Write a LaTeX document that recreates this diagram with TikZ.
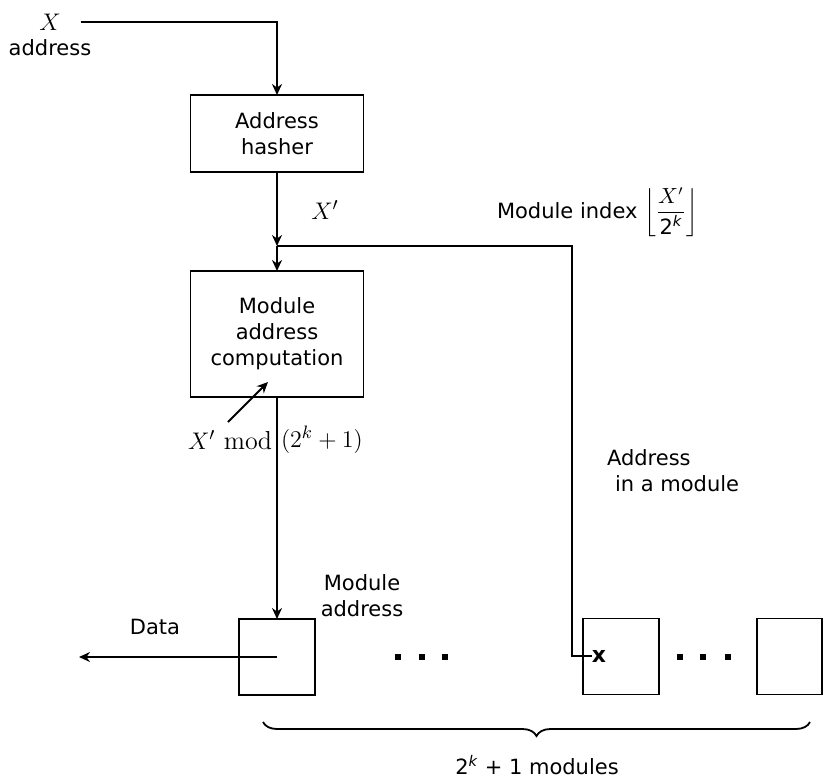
\documentclass[tikz,border=0pt]{standalone}
\usepackage{fontspec}
\setsansfont{DejaVu Sans}
\usetikzlibrary{arrows.meta,decorations.pathreplacing}

\begin{document}
\begin{tikzpicture}[x=0.5pt,y=-0.5pt,
  every node/.style={inner sep=0pt, outer sep=0pt},
  lbl/.style={font=\sffamily\fontsize{10.5}{13}\selectfont, align=center},
  mth/.style={font=\fontsize{13}{15}\selectfont},
  blk/.style={draw, line width=0.9pt, lbl},
  modbox/.style={draw, line width=0.9pt, minimum width=38pt, minimum height=38pt},
  wire/.style={line width=0.9pt},
  arr/.style={wire, -{Stealth[length=5.5pt,width=5pt]}},
  sq/.style={fill, minimum size=3.2pt, inner sep=0pt}]

\useasboundingbox (0,0) rectangle (824,782);

% input address
\node[mth] (xlab) at (50,22) {$X$};
\node[lbl] (xaddr) at (50,48) {address};

% processing blocks
\node[blk, minimum width=86.5pt, minimum height=38.5pt] (hasher) at (277,133.5) {Address\\hasher};
\node[blk, minimum width=86.5pt, minimum height=63pt] (comp) at (277,334) {Module\\address\\computation};

% memory modules
\node[modbox] (m1) at (277,657) {};
\node[modbox] (m2) at (621,656.5) {};
\node[draw, line width=0.9pt, minimum width=32.5pt, minimum height=38pt] (m3) at (789.5,656.5) {};

% ellipsis dots between modules
\node[sq] (d1) at (398,657) {};
\node[sq] (d2) at (422,657) {};
\node[sq] (d3) at (445,657) {};
\node[sq] (d4) at (680,657) {};
\node[sq] (d5) at (703,657) {};
\node[sq] (d6) at (728,657) {};

% junction and routing points
\coordinate (j) at (277,246);
\coordinate (turn) at (572,246);
\coordinate (dataend) at (79,657);
\coordinate (ptail) at (228,422);
\coordinate (phead) at (268,382);

% word-address entry mark
\node[font=\sffamily\bfseries\fontsize{11}{12}\selectfont] (mark) at (599,656) {x};

% connectors
\draw[arr] ([xshift=10pt]xlab.east) -| (hasher.north);
\draw[arr] (hasher.south) -- (j);
\draw[arr] (j) -- (comp.north);
\draw[wire] (j) -- (turn) |- (mark.west);
\draw[arr] (comp.south) -- (m1.north);
\draw[arr] (m1.center) -- (dataend);
\draw[arr] (ptail) -- (phead);

% labels
\node[mth] (xp) at (325,210) {$X'$};
\node[lbl, anchor=west] (midx) at (497,212) {Module index $\left\lfloor\displaystyle\frac{X'}{\mbox{\sffamily 2\textsuperscript{\itshape k}}}\right\rfloor$};
\node[mth, anchor=east] (modl) at (272,440) {$X'\ \mathrm{mod}$};
\node[mth, anchor=west] (modr) at (281,440) {$(2^{k}+1)$};
\node[lbl] (maddr) at (362,596) {Module\\address};
\node[lbl] (data) at (155,627) {Data};
\node[lbl, align=left, anchor=west] (inmod) at (607,471) {Address\\\hspace*{4pt}in a module};

% brace under the module row
\draw[wire, decorate, decoration={brace, amplitude=7pt}] (810,722) -- (263,722);
\node[lbl] (count) at (537,765) {2\textsuperscript{\itshape k} + 1 modules};

\end{tikzpicture}
\end{document}
